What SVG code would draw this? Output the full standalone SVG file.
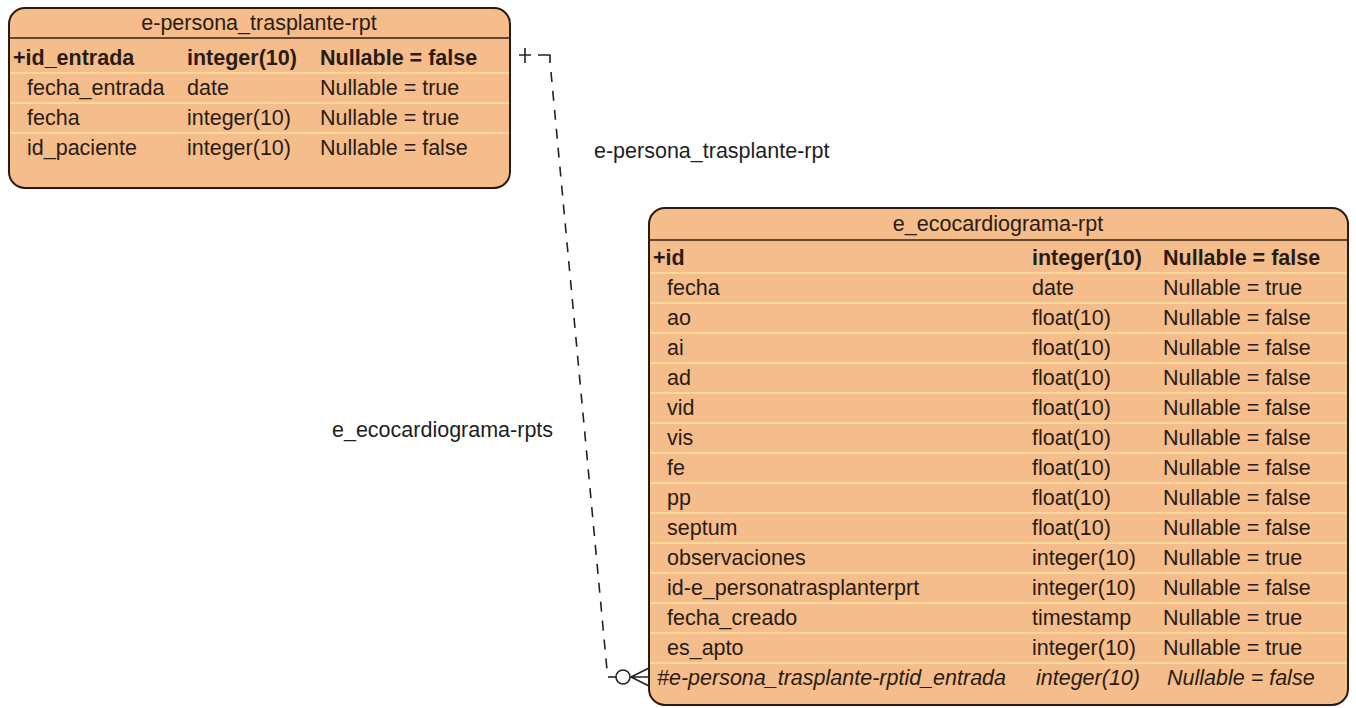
<svg xmlns="http://www.w3.org/2000/svg" width="1356" height="708" viewBox="0 0 1356 708">
  <style>
    text { font-family: "Liberation Sans", Arial, sans-serif; font-size: 21.5px; fill: #2a1c12; }
    .box { fill: #f5bc8c; stroke: #2a1a10; stroke-width: 2; }
    .hdr { stroke: #3a1c10; stroke-width: 1.6; }
    .sep { stroke: #f8e3a2; stroke-width: 1.6; }
    .title { text-anchor: middle; }
    .key { font-weight: bold; }
    .fk { font-style: italic; }
    .link { fill: none; stroke: #222; stroke-width: 1.6; }
    .dash { stroke-dasharray: 10 9; }
    .lbl { fill: #1e1e1e; }
  </style>

  <rect width="1356" height="708" fill="#ffffff"/>

  <!-- table: e-persona_trasplante-rpt -->
  <g id="e-persona_trasplante-rpt">
    <rect class="box" x="9" y="8" width="501" height="180" rx="16"/>
    <text class="title" x="259" y="30">e-persona_trasplante-rpt</text>
    <line class="hdr" x1="9" y1="38" x2="510" y2="38"/>
    <line class="sep" x1="10" y1="73" x2="509" y2="73"/>
    <line class="sep" x1="10" y1="103" x2="509" y2="103"/>
    <line class="sep" x1="10" y1="133" x2="509" y2="133"/>
    <text class="key" x="13" y="65">+id_entrada</text>
    <text class="key" x="187" y="65">integer(10)</text>
    <text class="key" x="320" y="65">Nullable = false</text>
    <text x="27" y="95">fecha_entrada</text>
    <text x="187" y="95">date</text>
    <text x="320" y="95">Nullable = true</text>
    <text x="27" y="125">fecha</text>
    <text x="187" y="125">integer(10)</text>
    <text x="320" y="125">Nullable = true</text>
    <text x="27" y="155">id_paciente</text>
    <text x="187" y="155">integer(10)</text>
    <text x="320" y="155">Nullable = false</text>
  </g>

  <!-- table: e_ecocardiograma-rpt -->
  <g id="e_ecocardiograma-rpt">
    <rect class="box" x="649" y="208" width="699" height="497" rx="16"/>
    <text class="title" x="998" y="231">e_ecocardiograma-rpt</text>
    <line class="hdr" x1="649" y1="240" x2="1348" y2="240"/>
    <g class="sep">
      <line x1="650" y1="273" x2="1347" y2="273"/>
      <line x1="650" y1="303" x2="1347" y2="303"/>
      <line x1="650" y1="333" x2="1347" y2="333"/>
      <line x1="650" y1="363" x2="1347" y2="363"/>
      <line x1="650" y1="393" x2="1347" y2="393"/>
      <line x1="650" y1="423" x2="1347" y2="423"/>
      <line x1="650" y1="453" x2="1347" y2="453"/>
      <line x1="650" y1="483" x2="1347" y2="483"/>
      <line x1="650" y1="513" x2="1347" y2="513"/>
      <line x1="650" y1="543" x2="1347" y2="543"/>
      <line x1="650" y1="573" x2="1347" y2="573"/>
      <line x1="650" y1="603" x2="1347" y2="603"/>
      <line x1="650" y1="633" x2="1347" y2="633"/>
      <line x1="650" y1="663" x2="1347" y2="663"/>
    </g>
    <text class="key" x="653" y="265">+id</text>
    <text class="key" x="1032" y="265">integer(10)</text>
    <text class="key" x="1163" y="265">Nullable = false</text>

    <text x="667" y="295">fecha</text>
    <text x="1032" y="295">date</text>
    <text x="1163" y="295">Nullable = true</text>

    <text x="667" y="325">ao</text>
    <text x="1032" y="325">float(10)</text>
    <text x="1163" y="325">Nullable = false</text>

    <text x="667" y="355">ai</text>
    <text x="1032" y="355">float(10)</text>
    <text x="1163" y="355">Nullable = false</text>

    <text x="667" y="385">ad</text>
    <text x="1032" y="385">float(10)</text>
    <text x="1163" y="385">Nullable = false</text>

    <text x="667" y="415">vid</text>
    <text x="1032" y="415">float(10)</text>
    <text x="1163" y="415">Nullable = false</text>

    <text x="667" y="445">vis</text>
    <text x="1032" y="445">float(10)</text>
    <text x="1163" y="445">Nullable = false</text>

    <text x="667" y="475">fe</text>
    <text x="1032" y="475">float(10)</text>
    <text x="1163" y="475">Nullable = false</text>

    <text x="667" y="505">pp</text>
    <text x="1032" y="505">float(10)</text>
    <text x="1163" y="505">Nullable = false</text>

    <text x="667" y="535">septum</text>
    <text x="1032" y="535">float(10)</text>
    <text x="1163" y="535">Nullable = false</text>

    <text x="667" y="565">observaciones</text>
    <text x="1032" y="565">integer(10)</text>
    <text x="1163" y="565">Nullable = true</text>

    <text x="667" y="595">id-e_personatrasplanterprt</text>
    <text x="1032" y="595">integer(10)</text>
    <text x="1163" y="595">Nullable = false</text>

    <text x="667" y="625">fecha_creado</text>
    <text x="1032" y="625">timestamp</text>
    <text x="1163" y="625">Nullable = true</text>

    <text x="667" y="655">es_apto</text>
    <text x="1032" y="655">integer(10)</text>
    <text x="1163" y="655">Nullable = true</text>

    <text class="fk" x="657" y="685">#e-persona_trasplante-rptid_entrada</text>
    <text class="fk" x="1036" y="685">integer(10)</text>
    <text class="fk" x="1167" y="685">Nullable = false</text>
  </g>

  <!-- relationship: one e-persona_trasplante-rpt to many e_ecocardiograma-rpt -->
  <g id="connectors">
    <path class="link" d="M519,55 H531 M525,48 V63"/>
    <path class="link" d="M538,55 H550 V63"/>
    <path class="link dash" d="M551,72 L607,670"/>
    <path class="link" d="M608,677 H616"/>
    <circle class="link" cx="623" cy="677" r="7"/>
    <path class="link" d="M649,668 L631,677 L649,686 M631,677 H649"/>
    <text class="lbl" x="594" y="158">e-persona_trasplante-rpt</text>
    <text class="lbl" x="332" y="437">e_ecocardiograma-rpts</text>
  </g>
</svg>
